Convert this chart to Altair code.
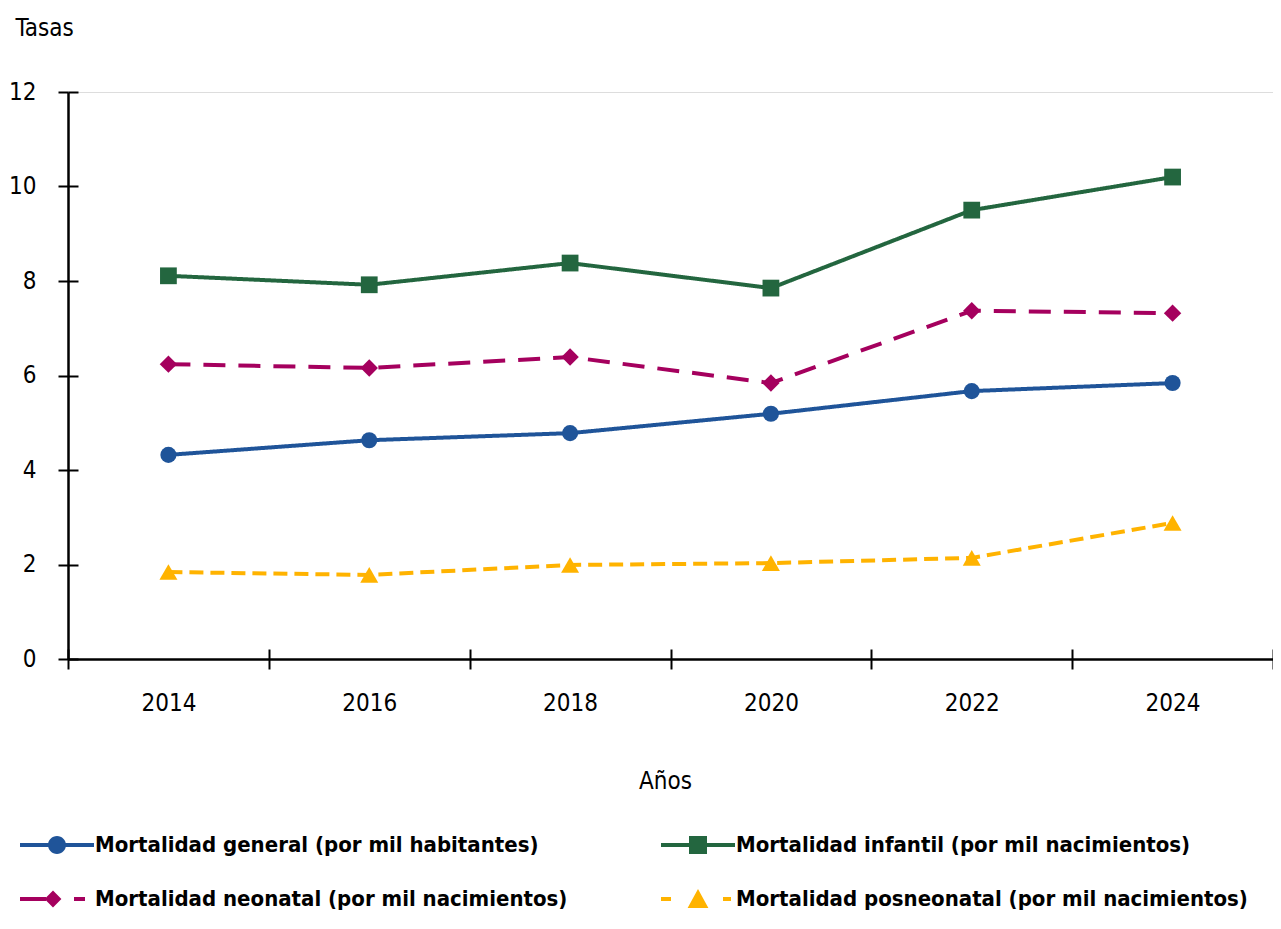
import altair as alt
import pandas as pd

years = ["2014", "2016", "2018", "2020", "2022", "2024"]
series_names = [
    "Mortalidad general (por mil habitantes)",
    "Mortalidad infantil (por mil nacimientos)",
    "Mortalidad neonatal (por mil nacimientos)",
    "Mortalidad posneonatal (por mil nacimientos)",
]
general = [4.32, 4.63, 4.78, 5.19, 5.67, 5.84]
infantil = [8.11, 7.92, 8.38, 7.85, 9.50, 10.20]
neonatal = [6.24, 6.16, 6.39, 5.84, 7.37, 7.32]
posneonatal = [1.84, 1.78, 1.99, 2.03, 2.14, 2.88]

colors = ["#1F5499", "#23663F", "#A5005E", "#FFB300"]
dashes = [[1, 0], [1, 0], [22, 13], [14, 7]]
shapes = ["circle", "square", "diamond", "triangle-up"]
sizes = [260, 324, 300, 400]
y_ticks = [0, 2, 4, 6, 8, 10, 12]
# legend is filled column by column: general, neonatal | infantil, posneonatal
legend_order = [0, 2, 1, 3]

rows = []
for name, vals in zip(series_names, [general, infantil, neonatal, posneonatal]):
    for y, v in zip(years, vals):
        rows.append({"year": y, "serie": name, "valor": v})
df = pd.DataFrame(rows)

FONT = "DejaVu Sans Condensed"

# legend symbols: line + marker paths (units of sqrt(size)/2)
LINE = "M-1.85,-0.1H1.85V0.1H-1.85Z"
p_general = LINE + " M-0.45,0A0.45,0.45 0 1 1 0.45,0A0.45,0.45 0 1 1 -0.45,0Z"
p_infantil = LINE + " M-0.45,-0.45H0.45V0.45H-0.45Z"
p_neonatal = ("M-1.85,-0.1H-0.55V0.1H-1.85Z M0.85,-0.1H1.4V0.1H0.85Z "
              "M-0.2,-0.42L0.22,0L-0.2,0.42L-0.62,0Z")
p_posneo = ("M-1.85,-0.1H-1.35V0.1H-1.85Z M1.25,-0.1H1.65V0.1H1.25Z "
            "M0,-0.5L0.52,0.45L-0.52,0.45Z")
legend_paths = [p_general, p_infantil, p_neonatal, p_posneo]

xscale = alt.Scale(type="band", paddingInner=0, paddingOuter=0)
yscale = alt.Scale(domain=[0, 12], nice=False)

x_main = alt.X(
    "year:N", sort=years, bandPosition=0.5, scale=xscale,
    axis=alt.Axis(
        title="Años", orient="bottom", tickBand="extent", tickSize=10, tickWidth=2,
        tickColor="#000", domainColor="#000", domainWidth=2.5, labelAngle=0,
        labelFontSize=24, labelPadding=22, labelColor="#000", labelFont=FONT,
        grid=False, titleFont=FONT, titleFontSize=24, titleFontWeight="normal",
        titleX=597, titleY=129, titleBaseline="alphabetic", titleColor="#000",
    ),
)
y_main = alt.Y(
    "valor:Q", scale=yscale,
    axis=alt.Axis(
        title="Tasas", orient="left", values=y_ticks, tickSize=10, tickWidth=2,
        tickColor="#000", domainColor="#000", domainWidth=2.5,
        labelFontSize=24, labelPadding=22, labelColor="#000", labelFont=FONT,
        gridColor="#D9D9D9", gridWidth=1.5,
        titleAngle=0, titleAlign="left", titleBaseline="alphabetic",
        titleX=-53, titleY=-57, titleFont=FONT, titleFontSize=24,
        titleFontWeight="normal", titleColor="#000",
    ),
)
# inner halves of the crossing ticks
x_inner = alt.X(
    "year:N", sort=years, bandPosition=0.5, scale=xscale,
    axis=alt.Axis(
        title=None, orient="bottom", offset=-10, tickBand="extent", tickSize=10,
        tickWidth=2, tickColor="#000", domain=False, labels=False, grid=False,
    ),
)
y_inner = alt.Y(
    "valor:Q", scale=yscale,
    axis=alt.Axis(
        title=None, orient="left", offset=-10, values=y_ticks, tickSize=10,
        tickWidth=2, tickColor="#000", domain=False, labels=False, grid=False,
    ),
)

lines = alt.Chart(df).mark_line(strokeWidth=4).encode(
    x=x_inner,
    y=y_inner,
    color=alt.Color("serie:N", scale=alt.Scale(domain=series_names, range=colors), legend=None),
    strokeDash=alt.StrokeDash(
        "serie:N", scale=alt.Scale(domain=series_names, range=dashes), legend=None
    ),
)

points = alt.Chart(df).mark_point(filled=True, opacity=1).encode(
    x=x_main,
    y=y_main,
    color=alt.Color("serie:N", scale=alt.Scale(domain=series_names, range=colors), legend=None),
    shape=alt.Shape("serie:N", scale=alt.Scale(domain=series_names, range=shapes), legend=None),
    size=alt.Size("serie:N", scale=alt.Scale(domain=series_names, range=sizes), legend=None),
)

legend_props = dict(
    title=None,
    orient="none",
    legendX=-31,
    legendY=733,
    columns=2,
    columnPadding=93,
    rowPadding=23,
    symbolSize=1600,
    labelOffset=18,
    labelFont=FONT,
    labelFontSize=22,
    labelFontWeight="bold",
    labelColor="#000",
    labelLimit=700,
    symbolStrokeWidth=0,
    symbolOpacity=1,
)

leg_names = [series_names[i] for i in legend_order]
leg_colors = [colors[i] for i in legend_order]
leg_paths = [legend_paths[i] for i in legend_order]

# legend-only layer (no rows drawn): the legend comes from the scales' explicit domains
legend_layer = (
    alt.Chart(df)
    .transform_filter("false")
    .mark_point(filled=True, opacity=1, strokeWidth=0)
    .encode(
        color=alt.Color(
            "serie:N",
            scale=alt.Scale(domain=leg_names, range=leg_colors),
            legend=alt.Legend(**legend_props),
        ),
        shape=alt.Shape(
            "serie:N",
            scale=alt.Scale(domain=leg_names, range=leg_paths),
            legend=alt.Legend(**legend_props),
        ),
    )
)

chart = (
    alt.layer(lines, points, legend_layer)
    .resolve_axis(x="independent", y="independent")
    .resolve_scale(color="independent", shape="independent")
    .properties(
        width=1205,
        height=567,
        autosize=alt.AutoSizeParams(type="none"),
        padding={"left": 60, "top": 84, "right": 0, "bottom": 255},
    )
    .configure_view(stroke=None)
    .configure(font=FONT)
)

chart.save("out.html", embed_options={"renderer": "svg", "actions": False})
